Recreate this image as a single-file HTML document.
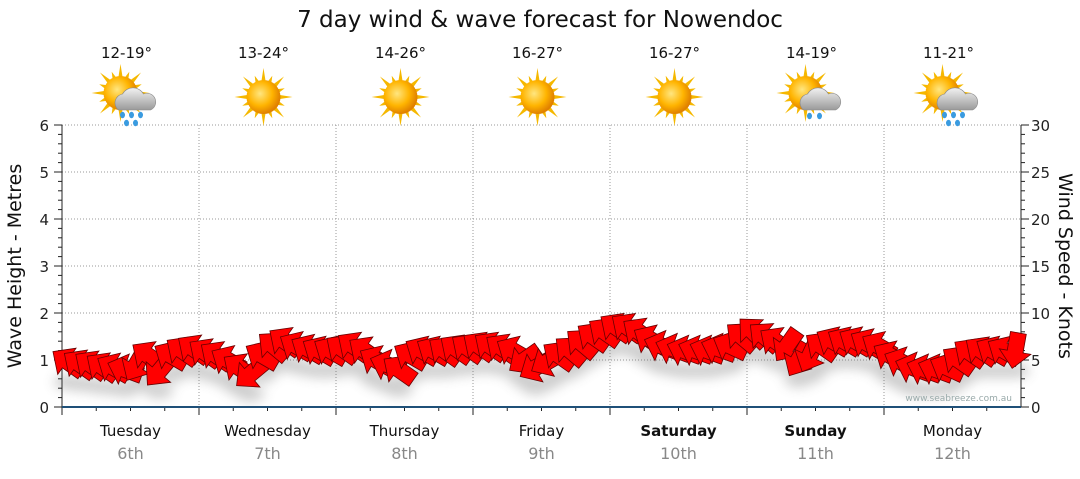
<!DOCTYPE html>
<html><head><meta charset="utf-8"><style>
body{margin:0;background:#fff;width:1080px;height:475px;overflow:hidden;font-family:"DejaVu Sans","Liberation Sans",sans-serif}
</style></head><body>
<svg id="chart" width="1080" height="475" xmlns="http://www.w3.org/2000/svg" font-family="DejaVu Sans, Liberation Sans, sans-serif">
<defs>
<radialGradient id="sunG" cx="40%" cy="40%" r="60%"><stop offset="0" stop-color="#ffe680"/><stop offset="0.6" stop-color="#ffb400"/><stop offset="1" stop-color="#e08000"/></radialGradient>
<linearGradient id="cloudG" x1="0" y1="0" x2="0" y2="1"><stop offset="0" stop-color="#f2f2f2"/><stop offset="1" stop-color="#9a9a9a"/></linearGradient>
<filter id="blur"><feGaussianBlur stdDeviation="6"/></filter>
</defs>
<text x="540" y="27" text-anchor="middle" font-size="23" fill="#111">7 day wind &amp; wave forecast for Nowendoc</text>
<g id="grid"></g>
<g id="axes"></g>
<g id="icons"></g>
<g id="shadow" filter="url(#blur)" opacity="0.3"></g>
<g id="arrows"></g>
<text x="1012" y="401" text-anchor="end" font-size="9" fill="#9aa">www.seabreeze.com.au</text>
<text transform="translate(21,266) rotate(-90)" text-anchor="middle" font-size="19" fill="#111">Wave Height - Metres</text>
<text transform="translate(1059,266) rotate(90)" text-anchor="middle" font-size="19" fill="#111">Wind Speed - Knots</text>
</svg>
<script>
const days=["Tuesday","Wednesday","Thursday","Friday","Saturday","Sunday","Monday"];
const dates=["6th","7th","8th","9th","10th","11th","12th"];
const bold=[false,false,false,false,true,true,false];
const temps=["12-19°","13-24°","14-26°","16-27°","16-27°","14-19°","11-21°"];
const icons=["rain","sun","sun","sun","sun","cloud","rain"];
const waveTicks=[0,1,2,3,4,5,6];
const windTicks=[0,5,10,15,20,25,30];
// wind every 2 hours (12 per day)
const windSpeed=[4.8,4.6,4.5,4.3,4.2,4.0,4.5,5.5,3.8,5.5,6.0,6.2,
 5.8,5.5,5.0,4.2,3.5,5.5,6.5,7.0,6.5,6.2,6.0,6.0,
 6.2,6.5,6.0,5.0,4.5,4.0,5.5,6.0,6.0,6.0,6.2,6.3,
 6.5,6.5,6.3,6.0,5.0,4.2,4.8,5.5,6.0,6.8,7.5,8.0,
 8.5,8.5,8.0,7.2,6.5,6.2,6.0,6.0,6.0,6.2,6.5,7.5,
 8.0,7.5,7.0,6.5,5.0,5.5,6.5,7.0,7.0,7.0,6.8,6.5,
 5.5,4.8,4.2,4.0,4.0,4.2,5.0,5.8,6.0,6.0,6.0,6.0];
const windDir=[215,215,215,215,210,200,120,215,130,210,215,215,
 215,215,210,215,140,210,220,215,210,210,210,210,
 215,215,215,210,200,215,210,210,210,215,215,215,
 215,215,215,210,145,150,150,215,220,220,215,215,
 215,215,215,210,200,200,200,200,200,200,205,220,
 225,220,215,125,120,115,215,210,210,210,210,210,
 210,205,200,200,200,205,215,215,215,210,210,100];
const N=windSpeed.length;
const X0=62,X1=1021,Y0=407,Y1=125;
const xDay=d=>X0+d*(X1-X0)/7;
const xT=i=>X0+(i+0.5)*(X1-X0)/N;
const yW=m=>Y0-m*(Y0-Y1)/6;
const yK=k=>Y0-k*(Y0-Y1)/30;
const NS="http://www.w3.org/2000/svg";
function mk(t,p,a){const e=document.createElementNS(NS,t);for(const k in a)e.setAttribute(k,a[k]);p.appendChild(e);return e;}
const grid=document.getElementById('grid'),axes=document.getElementById('axes'),ic=document.getElementById('icons');
waveTicks.forEach(v=>{if(v>0){const l=mk('line',grid,{x1:X0,x2:X1,y1:yW(v),y2:yW(v),stroke:'#999','stroke-dasharray':'1,2'});}
 const t=mk('text',axes,{x:49,y:yW(v)+6,'text-anchor':'end','font-size':15,fill:'#222'});t.textContent=v;});
windTicks.forEach(v=>{const t=mk('text',axes,{x:1031,y:yK(v)+6,'font-size':15,fill:'#222'});t.textContent=v;});
for(let i=0;i<=30;i++){const y=Y0-i*(Y0-Y1)/30;const w=i%5==0?8:4;mk('line',axes,{x1:X0-w,x2:X0,y1:y,y2:y,stroke:'#222'});mk('line',axes,{x1:X1,x2:X1+w,y1:y,y2:y,stroke:'#222'});}
mk('line',axes,{x1:X0,x2:X0,y1:Y1,y2:Y0,stroke:'#222'});
mk('line',axes,{x1:X1,x2:X1,y1:Y1,y2:Y0,stroke:'#222'});
for(let d=0;d<7;d++){
 if(d>0){const l=mk('line',grid,{x1:xDay(d),x2:xDay(d),y1:Y1,y2:Y0,stroke:'#999','stroke-dasharray':'1,2'});}
 mk('line',axes,{x1:xDay(d),x2:xDay(d),y1:Y0,y2:Y0+8,stroke:'#222'});
 for(let q=1;q<4;q++){const x=xDay(d)+q*(X1-X0)/28;mk('line',axes,{x1:x,x2:x,y1:Y0,y2:Y0+4,stroke:'#222'});}
 const cx=(xDay(d)+xDay(d+1))/2;
 const t=mk('text',axes,{x:cx,y:436,'text-anchor':'middle','font-size':15,fill:'#111','font-weight':bold[d]?'bold':'normal'});t.textContent=days[d];
 const t2=mk('text',axes,{x:cx,y:459,'text-anchor':'middle','font-size':16,fill:'#888'});t2.textContent=dates[d];
 const t3=mk('text',ic,{x:cx-4,y:58,'text-anchor':'middle','font-size':15,fill:'#111'});t3.textContent=temps[d];
 const g=mk('g',ic,{transform:`translate(${cx-4},97)`});
 const sx=icons[d]=='sun'?0:-6,sy=icons[d]=='sun'?0:-4;
 for(let r=0;r<16;r++){const a=r*Math.PI/8,L=r%2?23:29;mk('polygon',g,{points:`${sx+Math.cos(a-0.15)*15},${sy+Math.sin(a-0.15)*15} ${sx+Math.cos(a)*L},${sy+Math.sin(a)*L} ${sx+Math.cos(a+0.15)*15},${sy+Math.sin(a+0.15)*15}`,fill:'#f5b800'});}
 mk('circle',g,{cx:sx,cy:sy,r:17,fill:'url(#sunG)'});
 if(icons[d]!='sun'){mk('path',g,{d:'M-8,13 a9,9 0 0 1 4,-16 a12,12 0 0 1 21,0 a8,8 0 0 1 7,16 z',fill:'url(#cloudG)',stroke:'#888','stroke-width':0.6});
  if(icons[d]=='rain'){[[-4,18],[5,18],[14,18],[0,26],[9,26]].forEach(p=>mk('ellipse',g,{cx:p[0],cy:p[1],rx:2.5,ry:3.2,fill:'#3a9be0'}));}
  else{[[-2,19],[8,19]].forEach(p=>mk('ellipse',g,{cx:p[0],cy:p[1],rx:2.5,ry:3.2,fill:'#3a9be0'}));}}
}
mk('line',axes,{x1:X0,x2:X1,y1:Y0,y2:Y0,stroke:'#1f5078','stroke-width':2});
const ar=document.getElementById('arrows'),sh=document.getElementById('shadow');
windSpeed.forEach((k,i)=>{
 const x=xT(i),y=yK(k);
 mk('ellipse',sh,{cx:x,cy:y+20,rx:14,ry:7,fill:'#555'});
 const p=mk('polygon',ar,{points:'-18,-8 1,-8 1,-16 18,0 1,16 1,8 -18,8',fill:'#f00',stroke:'#600','stroke-width':0.8,transform:`translate(${x},${y}) rotate(${windDir[i]})`});
 
 
});
</script>
</body></html>
